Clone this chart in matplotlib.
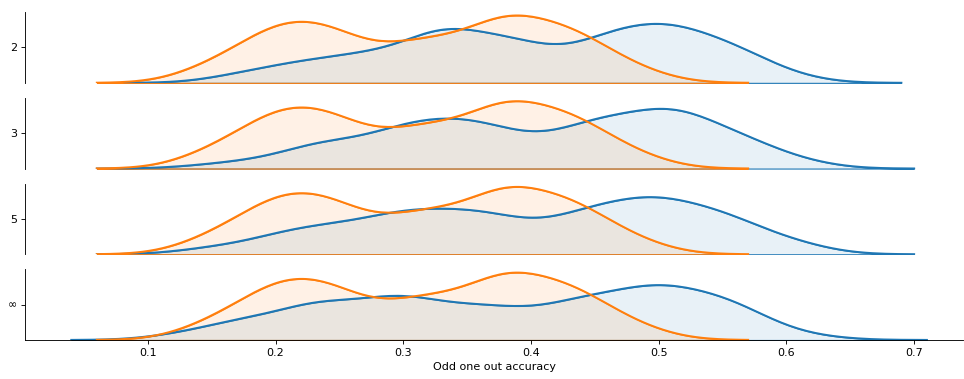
import numpy as np
import matplotlib
matplotlib.use("Agg")
import matplotlib.pyplot as plt
from matplotlib.colors import to_rgba

# Accuracy values (bins of 0.01) and number of runs per bin
acc = [0.13, 0.14, 0.15, 0.16, 0.17, 0.18, 0.19, 0.20, 0.21, 0.22,
       0.23, 0.24, 0.25, 0.26, 0.27, 0.28, 0.29, 0.30, 0.31, 0.32,
       0.33, 0.34, 0.35, 0.36, 0.37, 0.38, 0.39, 0.40, 0.41, 0.42,
       0.43, 0.44, 0.45, 0.46, 0.47, 0.48, 0.49, 0.50, 0.51, 0.52,
       0.53, 0.54, 0.55, 0.56, 0.57, 0.58, 0.59, 0.60, 0.61, 0.62]

# Reference runs (orange), same in every row
baseline_counts = [0, 0, 5, 0, 0, 2, 5, 6, 3, 2, 4, 5, 5, 2, 1, 0, 2, 2, 4, 4,
                   3, 1, 1, 2, 5, 8, 6, 2, 1, 2, 7, 6, 0, 1, 0, 4, 0, 0, 0, 0,
                   0, 0, 0, 0, 0, 0, 0, 0, 0, 0]

# Model runs (blue), one row per setting
row_labels = ["2", "3", "5", "∞"]
counts_2 = [0, 0, 0, 0, 1, 2, 0, 0, 1, 3, 2, 0, 1, 1, 4, 3, 0, 0, 2, 5,
            6, 4, 2, 2, 1, 4, 4, 4, 0, 1, 0, 2, 5, 3, 3, 3, 3, 4, 5, 4,
            2, 2, 2, 4, 3, 0, 0, 2, 0, 0]
counts_3 = [0, 0, 1, 0, 0, 1, 1, 0, 0, 1, 4, 2, 1, 1, 1, 2, 3, 3, 3, 3,
            2, 4, 3, 3, 3, 2, 2, 1, 2, 1, 1, 4, 5, 3, 2, 2, 3, 5, 5, 4,
            3, 2, 2, 2, 3, 2, 0, 0, 2, 0]
counts_5 = [0, 0, 2, 0, 0, 0, 2, 1, 2, 1, 2, 2, 2, 1, 2, 2, 3, 3, 2, 4,
            2, 2, 2, 4, 3, 2, 2, 1, 1, 1, 3, 4, 3, 2, 3, 3, 4, 5, 3, 3,
            2, 2, 4, 3, 2, 0, 1, 1, 2, 0]
counts_inf = [2, 0, 0, 0, 4, 1, 1, 1, 0, 3, 4, 4, 1, 1, 1, 3, 4, 3, 4, 2,
              0, 2, 2, 3, 3, 1, 2, 1, 1, 2, 3, 3, 4, 1, 2, 3, 4, 5, 3, 3,
              2, 2, 4, 3, 2, 1, 1, 0, 0, 1]
model_counts = [counts_2, counts_3, counts_5, counts_inf]

BW = 0.03  # kernel bandwidth
CUT = 3


def kde_curve(values, n_norm):
    # gaussian kde, normalised by the total count of the row
    grid = np.linspace(values.min() - CUT * BW, values.max() + CUT * BW, 200)
    z = (grid[:, None] - values[None, :]) / BW
    dens = np.exp(-0.5 * z ** 2).sum(axis=1) / (BW * np.sqrt(2 * np.pi) * n_norm)
    return grid, dens


acc = np.array(acc)
base_vals = np.repeat(acc, baseline_counts)

fig, axes = plt.subplots(4, 1, figsize=(964 / 80, 379 / 80), dpi=80, sharex=True)
fig.subplots_adjust(left=0.026, right=0.999, top=0.968, bottom=0.103, hspace=0.212)

for i, ax in enumerate(axes):
    model_vals = np.repeat(acc, model_counts[i])
    n_total = len(model_vals) + len(base_vals)
    for vals, col in ((model_vals, "C0"), (base_vals, "C1")):
        x, y = kde_curve(vals, n_total)
        ax.fill_between(x, 0, y, facecolor=to_rgba(col, 0.1), edgecolor=col, linewidth=1)
        ax.plot(x, y, color=col, lw=1.8)

    ax.set_ylim(0, None)
    ax.set_yticks([ax.get_ylim()[1] / 2])
    ax.set_yticklabels([row_labels[i]])
    ax.spines["top"].set_visible(False)
    ax.spines["right"].set_visible(False)
    if i < 3:
        ax.spines["bottom"].set_visible(False)
        ax.tick_params(axis="x", bottom=False)

axes[-1].set_xlim(0.0038, 0.7383)
axes[-1].set_xticks([0.1, 0.2, 0.3, 0.4, 0.5, 0.6, 0.7])
axes[-1].set_xlabel("Odd one out accuracy")

plt.savefig("out.png", dpi=80)
